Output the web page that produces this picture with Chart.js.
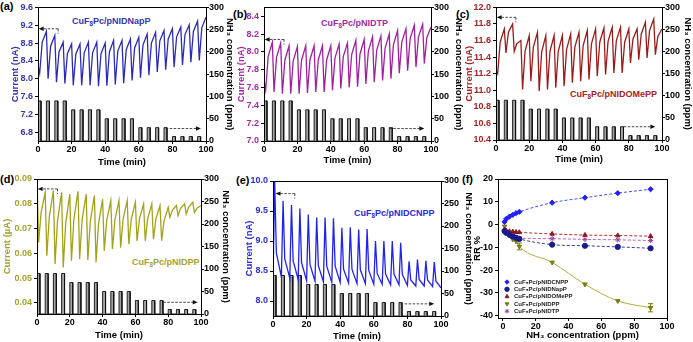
<!DOCTYPE html>
<html>
<head>
<meta charset="utf-8">
<script src="https://cdn.jsdelivr.net/npm/chart.js@4.4.1/dist/chart.umd.min.js"></script>
<style>
  body { margin: 0; width: 693px; height: 342px; position: relative; overflow: hidden; background: #fff;
         font-family: "Liberation Sans", "DejaVu Sans", Arial, sans-serif; }
  canvas { position: absolute; }
  .tag { position: absolute; font-weight: bold; white-space: nowrap; line-height: 1; }
  .tag sub { font-size: 70%; vertical-align: -0.25em; line-height: 0; }
</style>
</head>
<body>
<div class="tag" style="left:0px;top:1px;font-size:11px;">(a)</div>
<div class="tag" style="left:233px;top:9px;font-size:11px;">(b)</div>
<div class="tag" style="left:456px;top:9px;font-size:11px;">(c)</div>
<div class="tag" style="left:0px;top:174px;font-size:11px;">(d)</div>
<div class="tag" style="left:236px;top:175px;font-size:11px;">(e)</div>
<div class="tag" style="left:462px;top:174px;font-size:11px;">(f)</div>

<div class="tag" style="left:72px;top:17px;font-size:9px;color:#3535b0;">CuF<sub>8</sub>Pc/pNIDNapP</div>
<div class="tag" style="left:321px;top:19px;font-size:9px;color:#a52aa5;">CuF<sub>8</sub>Pc/pNIDTP</div>
<div class="tag" style="left:570px;top:90px;font-size:9px;color:#a82222;">CuF<sub>8</sub>Pc/pNIDOMePP</div>
<div class="tag" style="left:132px;top:258px;font-size:9px;color:#a3a32c;">CuF<sub>8</sub>Pc/pNIDPP</div>
<div class="tag" style="left:354px;top:209px;font-size:9px;color:#2a2ae0;">CuF<sub>8</sub>Pc/pNIDCNPP</div>

<script>
Chart.defaults.font.family = '"Liberation Sans", "DejaVu Sans", Arial, sans-serif';
Chart.defaults.font.weight = 'bold';
Chart.defaults.font.size = 9;
Chart.defaults.color = '#000';
Chart.defaults.animation = false;
Chart.defaults.plugins.legend.display = false;
Chart.defaults.plugins.tooltip.enabled = false;

// NH3 pulse schedule, shared by panels a-e
var cycleTimes = [0, 5, 10, 15, 20, 25, 30, 35, 40, 45, 50, 55, 60, 65, 70, 75, 80, 85, 90, 95];
var nh3Ppm = [90, 90, 90, 90, 70, 70, 70, 70, 50, 50, 50, 50, 30, 30, 30, 30, 10, 10, 10, 10];
var exposureMin = 1.8;
var dropMin = 1;
var midMin = 2.5;
var endTime = 100;
var timeTicks = [0, 20, 40, 60, 80, 100];
var ppmTicks = [0, 50, 100, 150, 200, 250, 300];

// (a) CuF8Pc/pNIDNapP, nA : value at each pulse start, at the dip, and mid-recovery
var aPeak = [8.30, 9.06, 8.97, 8.82, 8.78, 8.78, 8.82, 8.82, 8.80, 8.86, 8.86, 8.89, 8.93, 9.00, 9.04, 9.08, 9.12, 9.16, 9.21, 9.29, 9.38];
var aDip = [8.12, 8.00, 7.92, 7.89, 7.85, 7.85, 7.85, 7.83, 7.84, 7.87, 7.90, 7.96, 8.02, 8.08, 8.15, 8.20, 8.26, 8.31, 8.37, 8.41];
var aMid = [8.82, 8.73, 8.60, 8.56, 8.55, 8.58, 8.58, 8.56, 8.60, 8.62, 8.65, 8.69, 8.76, 8.80, 8.85, 8.89, 8.94, 8.99, 9.06, 9.14];
var aTicks = [6.8, 7.2, 7.6, 8.0, 8.4, 8.8, 9.2, 9.6];

// (b) CuF8Pc/pNIDTP, nA
var bPeak = [7.68, 8.11, 8.10, 8.07, 8.06, 8.07, 8.07, 8.07, 8.07, 8.09, 8.10, 8.13, 8.14, 8.17, 8.18, 8.20, 8.24, 8.26, 8.30, 8.31, 8.28];
var bDip = [7.57, 7.55, 7.53, 7.53, 7.53, 7.54, 7.55, 7.55, 7.57, 7.59, 7.60, 7.61, 7.64, 7.66, 7.68, 7.70, 7.76, 7.79, 7.83, 7.87];
var bMid = [7.95, 7.94, 7.91, 7.90, 7.91, 7.91, 7.91, 7.91, 7.93, 7.95, 7.97, 7.98, 8.01, 8.02, 8.04, 8.08, 8.11, 8.15, 8.17, 8.16];
var bTicks = [7.0, 7.2, 7.4, 7.6, 7.8, 8.0, 8.2, 8.4];

// (c) CuF8Pc/pNIDOMePP, nA
var cPeak = [11.25, 11.74, 11.80, 11.60, 11.66, 11.70, 11.66, 11.66, 11.66, 11.68, 11.70, 11.72, 11.74, 11.75, 11.76, 11.76, 11.74, 11.74, 11.82, 11.86, 11.74];
var cDip = [11.20, 11.45, 11.47, 11.01, 11.11, 10.99, 11.01, 11.03, 11.05, 11.09, 11.11, 11.13, 11.17, 11.19, 11.21, 11.21, 11.33, 11.37, 11.39, 11.43];
var cMid = [11.58, 11.70, 11.56, 11.47, 11.52, 11.46, 11.47, 11.47, 11.49, 11.52, 11.54, 11.56, 11.58, 11.59, 11.60, 11.58, 11.62, 11.68, 11.72, 11.65];
var cTicks = [10.4, 10.6, 10.8, 11.0, 11.2, 11.4, 11.6, 11.8, 12.0];

// (d) CuF8Pc/pNIDPP, uA
var dPeak = [0.0900, 0.0846, 0.0853, 0.0846, 0.0839, 0.0850, 0.0839, 0.0833, 0.0819, 0.0813, 0.0813, 0.0813, 0.0806, 0.0800, 0.0800, 0.0793, 0.0786, 0.0793, 0.0800, 0.0806, 0.0793];
var dDip = [0.0644, 0.0590, 0.0557, 0.0543, 0.0570, 0.0577, 0.0573, 0.0563, 0.0610, 0.0617, 0.0623, 0.0637, 0.0650, 0.0650, 0.0657, 0.0651, 0.0745, 0.0752, 0.0758, 0.0765];
var dMid = [0.0765, 0.0748, 0.0730, 0.0721, 0.0738, 0.0734, 0.0729, 0.0717, 0.0732, 0.0735, 0.0737, 0.0738, 0.0740, 0.0740, 0.0739, 0.0732, 0.0774, 0.0781, 0.0787, 0.0782];
var dTicks = [0.04, 0.05, 0.06, 0.07, 0.08, 0.09];

// (e) CuF8Pc/pNIDCNPP, nA : baseline at pulse start, spike top, tail
var eBase = [8.30, 8.40, 8.38, 8.36, 8.34, 8.33, 8.32, 8.31, 8.31, 8.30, 8.29, 8.29, 8.28, 8.28, 8.27, 8.27, 8.26, 8.25, 8.25, 8.24, 8.22];
var eSpike = [10.00, 9.67, 9.60, 9.54, 9.44, 9.39, 9.39, 9.38, 9.22, 9.23, 9.19, 9.20, 9.00, 9.00, 9.00, 8.97, 8.66, 8.69, 8.67, 8.65];
var eTail = [8.80, 8.70, 8.67, 8.64, 8.61, 8.59, 8.58, 8.58, 8.53, 8.53, 8.52, 8.51, 8.46, 8.45, 8.45, 8.44, 8.35, 8.36, 8.35, 8.33];
var eTicks = [8.0, 8.5, 9.0, 9.5, 10.0];

// (f) response vs concentration
var rrPpm = [1, 2, 4, 6, 8, 10, 30, 50, 70, 90];
var rrCNPP = [1.2, 2.5, 3.5, 4.3, 5.0, 5.6, 9.6, 11.8, 13.8, 15.5];
var rrNapP = [-2.8, -3.6, -4.5, -5.2, -5.8, -6.3, -8.8, -9.3, -9.8, -10.4];
var rrOMePP = [-2.4, -2.7, -3.0, -3.1, -3.3, -3.4, -4.1, -4.6, -4.8, -5.1];
var rrPP = [-0.8, -3.2, -4.8, -6.5, -7.3, -9.6, -16.6, -26.2, -33.5, -36.5];
var rrPPErr = [0, 0, 0, 0, 0, 1.5, 0, 0, 0, 1.8];
var rrTP = [-3.0, -3.7, -4.5, -5.2, -5.6, -6.0, -6.2, -6.5, -6.7, -7.0];
var rrXTicks = [0, 20, 40, 60, 80, 100];
var rrYTicks = [-40, -30, -20, -10, 0, 10, 20];

function sawTrace(peak, dip, mid) {
  var pts = [];
  cycleTimes.forEach(function (t, i) {
    pts.push({ x: t, y: peak[i] }, { x: t + dropMin, y: dip[i] }, { x: t + midMin, y: mid[i] });
  });
  pts.push({ x: endTime, y: peak[peak.length - 1] });
  return pts;
}
function spikeTrace(base, spike, tail) {
  var pts = [];
  cycleTimes.forEach(function (t, i) {
    pts.push({ x: t, y: base[i] }, { x: t + dropMin, y: spike[i] }, { x: t + 2 * dropMin, y: tail[i] });
  });
  pts.push({ x: endTime, y: base[base.length - 1] });
  return pts;
}
function pulseSteps() {
  var pts = [];
  cycleTimes.forEach(function (t, i) {
    pts.push({ x: t, y: 0 }, { x: t, y: nh3Ppm[i] }, { x: t + exposureMin, y: nh3Ppm[i] }, { x: t + exposureMin, y: 0 });
  });
  return pts;
}

function fixed(n) { return function (v) { return Number(v).toFixed(n); }; }

function yAxis(o) {
  return {
    type: 'linear', position: o.pos, min: o.min, max: o.max,
    afterBuildTicks: function (s) { s.ticks = o.ticks.map(function (v) { return { value: v }; }); },
    afterFit: function (s) { s.width = o.w; },
    grid: { drawOnChartArea: false, tickLength: 3, color: '#000' },
    border: { color: '#000', width: 1 },
    ticks: { color: o.color, autoSkip: false, padding: o.pos === 'left' ? 2 : 0, callback: fixed(o.dec) },
    title: { display: true, text: o.title, color: o.color, font: { size: 9.5, weight: 'bold' }, padding: { top: o.tpad, bottom: 0 } }
  };
}
function xAxis(o) {
  return {
    type: 'linear', position: 'bottom', min: o.min, max: o.max,
    afterBuildTicks: function (s) { s.ticks = o.ticks.map(function (v) { return { value: v }; }); },
    afterFit: function (s) { s.height = o.h; },
    grid: { drawOnChartArea: false, tickLength: 3, color: '#000' },
    border: { color: '#000', width: 1 },
    ticks: { color: '#000', autoSkip: false, maxRotation: 0, padding: 0, callback: fixed(0) },
    title: { display: true, text: o.title, color: '#000', font: { size: 9.5, weight: 'bold' }, padding: { top: 0, bottom: o.tpad } }
  };
}

var framePlugin = {
  id: 'frame',
  afterDraw: function (chart) {
    var a = chart.chartArea, ctx = chart.ctx;
    ctx.save();
    ctx.strokeStyle = '#000';
    ctx.lineWidth = 1;
    ctx.strokeRect(Math.round(a.left) + 0.5, Math.round(a.top) + 0.5, Math.round(a.right - a.left), Math.round(a.bottom - a.top));
    ctx.restore();
  }
};

var arrowPlugin = {
  id: 'arrows',
  afterDatasetsDraw: function (chart, args, opts) {
    var ctx = chart.ctx;
    (opts.list || []).forEach(function (a) {
      var xs = chart.scales.x, ys = chart.scales[a.axis];
      var x0 = xs.getPixelForValue(a.from), x1 = xs.getPixelForValue(a.to), y = ys.getPixelForValue(a.at);
      var dir = x1 > x0 ? 1 : -1;
      ctx.save();
      ctx.strokeStyle = '#333';
      ctx.fillStyle = '#111';
      ctx.lineWidth = 0.9;
      ctx.setLineDash([2.5, 1.5]);
      ctx.beginPath();
      ctx.moveTo(x0, y);
      ctx.lineTo(x1 - dir * 4, y);
      if (a.tick) { ctx.moveTo(x0, y); ctx.lineTo(x0, y + 5); }
      ctx.stroke();
      ctx.setLineDash([]);
      ctx.beginPath();
      ctx.moveTo(x1, y);
      ctx.lineTo(x1 - dir * 5, y - 2.2);
      ctx.lineTo(x1 - dir * 5, y + 2.2);
      ctx.closePath();
      ctx.fill();
      ctx.restore();
    });
  }
};

function timePanel(p) {
  var cv = document.createElement('canvas');
  cv.width = p.box[2];
  cv.height = p.box[3];
  cv.style.left = p.box[0] + 'px';
  cv.style.top = p.box[1] + 'px';
  document.body.appendChild(cv);
  new Chart(cv, {
    type: 'line',
    data: {
      datasets: [
        { data: p.trace, yAxisID: 'y', borderColor: p.color, borderWidth: 1.3, pointRadius: 0, tension: 0, order: 0 },
        { data: pulseSteps(), yAxisID: 'y2', borderColor: '#111', backgroundColor: '#a4a4a4', borderWidth: 0.9,
          pointRadius: 0, tension: 0, fill: 'origin', order: 1 }
      ]
    },
    options: {
      responsive: false,
      layout: { padding: { top: p.top, left: 0, right: 0, bottom: 0 } },
      scales: {
        x: xAxis({ min: 0, max: endTime, ticks: timeTicks, h: p.xh, title: 'Time (min)', tpad: p.xpad }),
        y: yAxis({ pos: 'left', min: p.min, max: p.max, ticks: p.ticks, dec: p.dec, w: p.lw, color: p.tickColor,
                   title: p.unit, tpad: p.lpad }),
        y2: yAxis({ pos: 'right', min: 0, max: 300, ticks: ppmTicks, dec: 0, w: p.rw, color: '#000',
                    title: 'NH\u2083 concentration (ppm)', tpad: 5 })
      },
      plugins: { arrows: { list: p.arrows } }
    },
    plugins: [framePlugin, arrowPlugin]
  });
}

timePanel({ box: [0, 0, 240, 171], top: 7, lw: 38, rw: 34, xh: 30, lpad: 9.8, xpad: 3.3,
  color: '#2b2bb8', tickColor: '#3535b0', min: 6.6, max: 9.6, ticks: aTicks, dec: 1, unit: 'Current (nA)',
  trace: sawTrace(aPeak, aDip, aMid),
  arrows: [{ axis: 'y', at: 9.12, from: 12, to: 0.4, tick: true }, { axis: 'y2', at: 28, from: 76, to: 97 }] });

timePanel({ box: [231, 0, 238, 171], top: 7, lw: 33, rw: 38, xh: 30, lpad: 5, xpad: 5.3,
  color: '#a0209f', tickColor: '#a52aa5', min: 7.0, max: 8.5, ticks: bTicks, dec: 1, unit: 'Current (nA)',
  trace: sawTrace(bPeak, bDip, bMid),
  arrows: [{ axis: 'y', at: 8.14, from: 12, to: 0.4, tick: true }, { axis: 'y2', at: 28, from: 75, to: 96 }] });

timePanel({ box: [462, 0, 236, 171], top: 5, lw: 34, rw: 36, xh: 31, lpad: 2, xpad: 6.3,
  color: '#9b1b1b', tickColor: '#a82222', min: 10.4, max: 12.0, ticks: cTicks, dec: 1, unit: 'Current (nA)',
  trace: sawTrace(cPeak, cDip, cMid),
  arrows: [{ axis: 'y', at: 11.88, from: 12, to: 0.4, tick: true }, { axis: 'y2', at: 30, from: 77, to: 96 }] });

timePanel({ box: [0, 171, 236, 171], top: 8, lw: 37, rw: 35, xh: 28, lpad: 1.5, xpad: 1.3,
  color: '#a3a31a', tickColor: '#a3a32c', min: 0.0355, max: 0.09, ticks: dTicks, dec: 2, unit: 'Current (\u00b5A)',
  trace: sawTrace(dPeak, dDip, dMid),
  arrows: [{ axis: 'y', at: 0.086, from: 12.5, to: 0.4, tick: true }, { axis: 'y2', at: 26, from: 77, to: 98 }] });

timePanel({ box: [231, 171, 248, 171], top: 10, lw: 42, rw: 38, xh: 26, lpad: 12.5, xpad: 0.3,
  color: '#2222ee', tickColor: '#2a2ae0', min: 7.75, max: 10.0, ticks: eTicks, dec: 1, unit: 'Current (nA)',
  trace: spikeTrace(eBase, eSpike, eTail),
  arrows: [{ axis: 'y', at: 9.79, from: 13, to: 1.5, tick: true }, { axis: 'y2', at: 27, from: 76, to: 96 }] });

// (f) panel
var rrLegend = {
  id: 'rrLegend',
  afterDatasetsDraw: function (chart, args, opts) {
    var ctx = chart.ctx, a = chart.chartArea;
    chart.data.datasets.forEach(function (ds, i) {
      var meta = chart.getDatasetMeta(i);
      (ds.errors || []).forEach(function (e, j) {
        if (!e) return;
        var pt = meta.data[j], ys = chart.scales.y;
        var yTop = ys.getPixelForValue(ds.data[j].y + e), yBot = ys.getPixelForValue(ds.data[j].y - e);
        ctx.save();
        ctx.strokeStyle = ds.pointBorderColor;
        ctx.lineWidth = 1;
        ctx.beginPath();
        ctx.moveTo(pt.x, yTop); ctx.lineTo(pt.x, yBot);
        ctx.moveTo(pt.x - 2.5, yTop); ctx.lineTo(pt.x + 2.5, yTop);
        ctx.moveTo(pt.x - 2.5, yBot); ctx.lineTo(pt.x + 2.5, yBot);
        ctx.stroke();
        ctx.restore();
      });
      var x = a.left + opts.dx, y = a.top + opts.dy + i * opts.step;
      ctx.save();
      ctx.fillStyle = ds.pointBackgroundColor;
      ctx.strokeStyle = ds.pointBorderColor;
      ctx.lineWidth = 1;
      Chart.helpers.drawPoint(ctx, { pointStyle: ds.pointStyle, rotation: ds.pointRotation || 0, radius: 2.2, borderWidth: 1 }, x, y);
      ctx.fillStyle = '#222';
      ctx.font = 'bold 6px "Liberation Sans", Arial, sans-serif';
      ctx.textBaseline = 'middle';
      ctx.fillText(ds.label, x + 7, y);
      ctx.restore();
    });
  }
};

function rrSet(label, vals, color, lineColor, style, rot, dash, errs) {
  return {
    label: label,
    data: rrPpm.map(function (x, i) { return { x: x, y: vals[i] }; }),
    showLine: true, borderColor: lineColor, borderWidth: 1, borderDash: dash, cubicInterpolationMode: 'monotone',
    pointStyle: style, pointRotation: rot, pointRadius: 2.6, pointBackgroundColor: color, pointBorderColor: color,
    pointBorderWidth: 1, errors: errs
  };
}

var fCanvas = document.createElement('canvas');
fCanvas.width = 231;
fCanvas.height = 171;
fCanvas.style.left = '462px';
fCanvas.style.top = '171px';
document.body.appendChild(fCanvas);

new Chart(fCanvas, {
  type: 'scatter',
  data: {
    datasets: [
      rrSet('CuF\u2088Pc/pNIDCNPP', rrCNPP, '#1f1fff', '#4a4aff', 'rectRot', 0, [3, 2]),
      rrSet('CuF\u2088Pc/pNIDNapP', rrNapP, '#1a1a8c', '#3a3aa0', 'circle', 0, [3, 2]),
      rrSet('CuF\u2088Pc/pNIDOMePP', rrOMePP, '#8b1a1a', '#b03030', 'triangle', 0, [3, 2]),
      rrSet('CuF\u2088Pc/pNIDPP', rrPP, '#7c7c10', '#b0b040', 'triangle', 180, [], rrPPErr),
      rrSet('CuF\u2088Pc/pNIDTP', rrTP, '#a040a0', '#c060c0', 'star', 0, [3, 2])
    ]
  },
  options: {
    responsive: false,
    layout: { padding: { top: 8, right: 26, left: 0, bottom: 0 } },
    scales: {
      x: xAxis({ min: -3, max: 100, ticks: rrXTicks, h: 24, title: 'NH\u2083 concentration (ppm)', tpad: 1.3 }),
      y: yAxis({ pos: 'left', min: -41, max: 20, ticks: rrYTicks, dec: 0, w: 36, color: '#000', title: 'RR %', tpad: 9.3 })
    },
    plugins: { rrLegend: { dx: 9, dy: 103, step: 7.3 } }
  },
  plugins: [framePlugin, rrLegend]
});
</script>
</body>
</html>
